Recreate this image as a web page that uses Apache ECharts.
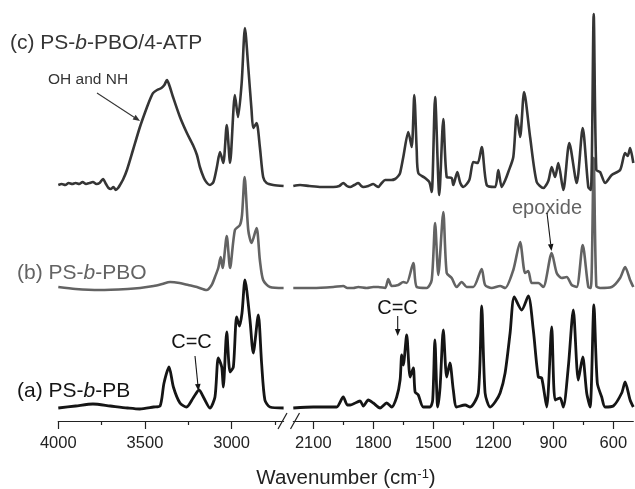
<!DOCTYPE html>
<html><head><meta charset="utf-8">
<script src="https://cdn.jsdelivr.net/npm/echarts@6/dist/echarts.min.js"></script>
<style>html,body{margin:0;padding:0;background:#fff}#c{width:635px;height:489px}</style>
</head><body><div id="c"></div>
<script>
// ---- tick values ----
const highLabels = [3000, 3500, 4000];
const highMinor = [2750, 3250, 3750];
const lowLabels = [600, 900, 1200, 1500, 1800, 2100];
const lowMinor = [750, 1050, 1350, 1650, 1950];
// ---- vertical stacking offsets of the three spectra ----
const offsets = {a: 13, b: 133, c: 235};
// ---- (c) PS-b-PBO/4-ATP [wavenumber, intensity] ----
const cHigh = [[4000,1],[3980,2],[3960,1],[3940,3],[3920,2],[3900,3],[3880,2],[3860,4],[3840,2],[3820,3],[3800,4],[3780,2],[3762,3],[3742,7],[3725,2],[3710,-2],[3696,-3],[3682,-1],[3668,-4],[3655,-2],[3644,1],[3625,7],[3604,16],[3569,36],[3529,59],[3488,79],[3465,89],[3453,93],[3430,96],[3405,98],[3388,101],[3373,106],[3358,100],[3338,89],[3298,69],[3258,53],[3223,41],[3200,31],[3183,19],[3160,8],[3142,3],[3125,1],[3105,4],[3085,19],[3067,34],[3048,23],[3028,61],[3009,23],[2981,91],[2963,69],[2942,103],[2923,158],[2904,119],[2885,76],[2875,58],[2856,63],[2837,39],[2818,9],[2798,3],[2760,1],[2700,0]];
const cLow = [[2200,0],[2166,1],[2120,0],[2060,-1],[2000,-1],[1970,0],[1950,3],[1932,0],[1916,-1],[1895,1],[1875,3],[1860,0],[1850,-1],[1825,0],[1800,2],[1785,0],[1775,-1],[1758,3],[1741,6],[1710,6],[1691,7],[1675,10],[1666,13],[1650,29],[1625,54],[1608,39],[1595,91],[1583,36],[1575,13],[1541,8],[1520,4],[1508,-6],[1491,89],[1470,-9],[1450,67],[1433,9],[1408,8],[1400,1],[1380,14],[1365,3],[1350,-1],[1320,6],[1300,24],[1278,23],[1258,39],[1233,1],[1191,-1],[1175,16],[1158,-1],[1140,6],[1125,14],[1100,29],[1083,71],[1066,49],[1046,94],[1016,49],[983,4],[950,-2],[925,5],[908,19],[891,9],[875,23],[850,-4],[820,43],[783,3],[753,58],[725,-1],[712,-4],[698,172],[685,16],[666,14],[641,3],[608,11],[566,16],[541,33],[528,30],[516,38],[500,23]];
// ---- (b) PS-b-PBO ----
const bHigh = [[4000,1],[3900,-1],[3760,-2],[3600,-1],[3528,0],[3450,2],[3400,4],[3355,6],[3300,5],[3250,3],[3200,1],[3144,-2],[3115,3],[3096,11],[3077,20],[3063,31],[3052,20],[3028,52],[3009,20],[2981,58],[2952,63],[2940,73],[2925,111],[2904,58],[2885,45],[2856,60],[2837,28],[2818,8],[2779,1],[2700,0]];
const bLow = [[2200,0],[2100,0],[2000,1],[1950,2],[1930,0],[1900,0],[1875,1],[1833,0],[1800,1],[1775,1],[1741,0],[1725,9],[1708,2],[1675,3],[1650,6],[1633,5],[1600,25],[1583,1],[1533,0],[1508,8],[1491,65],[1475,13],[1450,76],[1433,15],[1408,10],[1383,1],[1358,6],[1333,1],[1300,1],[1258,19],[1241,3],[1208,0],[1166,2],[1141,0],[1100,18],[1066,46],[1041,15],[1025,17],[1008,5],[975,5],[950,1],[908,35],[883,15],[858,10],[833,11],[808,3],[783,1],[753,43],[725,1],[712,0],[698,130],[685,2],[666,0],[608,1],[566,10],[541,21],[516,8],[500,1]];
// ---- (a) PS-b-PB ----
const aHigh = [[4000,0],[3900,2],[3800,4],[3700,2],[3600,0],[3530,-1],[3450,1],[3413,2],[3390,25],[3361,41],[3336,21],[3298,5],[3260,1],[3222,10],[3188,18],[3160,10],[3125,0],[3096,11],[3077,50],[3057,41],[3048,21],[3028,76],[3009,36],[2990,41],[2971,91],[2955,82],[2940,95],[2923,128],[2894,88],[2875,55],[2846,93],[2827,45],[2808,8],[2779,1],[2700,0]];
const aLow = [[2200,0],[2100,1],[2000,1],[1983,1],[1950,11],[1930,3],[1916,3],[1866,7],[1850,2],[1825,8],[1800,5],[1766,0],[1733,5],[1708,1],[1683,11],[1666,28],[1658,53],[1650,43],[1633,73],[1616,31],[1600,40],[1591,16],[1575,13],[1550,1],[1516,1],[1503,8],[1492,68],[1478,1],[1466,21],[1450,78],[1433,31],[1417,45],[1400,18],[1383,1],[1341,3],[1316,1],[1275,15],[1258,102],[1241,15],[1216,1],[1191,6],[1166,15],[1141,35],[1116,75],[1095,111],[1058,98],[1025,112],[1000,78],[975,31],[958,30],[933,1],[908,81],[891,8],[866,10],[850,1],[825,41],[800,98],[775,28],[753,51],[733,15],[716,1],[697,103],[680,25],[658,11],[641,1],[600,2],[558,15],[541,26],[516,8],[500,1]];

const FONT = '"Liberation Sans", Arial, Helvetica, sans-serif';
const AX = '#222';
const chart = echarts.init(document.getElementById('c'));

function majorAxis(grid, min, max, labels) {
  return {type:'value', gridIndex:grid, position:'bottom', min, max, inverse:true,
    axisLine:{show:true, onZero:false, lineStyle:{color:AX, width:1.2}},
    axisTick:{show:true, customValues:labels, length:8, lineStyle:{color:AX, width:1.2}},
    axisLabel:{show:true, customValues:labels, margin:14, color:AX, fontSize:16.5, fontFamily:FONT,
      formatter: v => String(v)},
    splitLine:{show:false}};
}
function minorAxis(grid, min, max, ticks) {
  return {type:'value', gridIndex:grid, position:'bottom', offset:0, min, max, inverse:true,
    axisLine:{show:false, onZero:false},
    axisTick:{show:true, customValues:ticks, length:4, lineStyle:{color:AX, width:1.2}},
    axisLabel:{show:false}, splitLine:{show:false}};
}
function spec(data, off, xi, color, width) {
  return {type:'line', xAxisIndex:xi, yAxisIndex: xi < 2 ? 0 : 1,
    data:data.map(p => [p[0], p[1] + off]), showSymbol:false, smooth:0.25,
    lineStyle:{color, width}, silent:true, animation:false};
}
function arrow(x1, y1, x2, y2, color) {
  const dx = x2 - x1, dy = y2 - y1, L = Math.hypot(dx, dy), ux = dx / L, uy = dy / L;
  const hl = 7, hw = 2.8, bx = x2 - ux * hl, by = y2 - uy * hl;
  return [
    {type:'line', shape:{x1, y1, x2:bx, y2:by}, style:{stroke:color, lineWidth:1.1}},
    {type:'polygon', shape:{points:[[x2, y2],[bx - uy * hw, by + ux * hw],[bx + uy * hw, by - ux * hw]]}, style:{fill:color}}
  ];
}
function txt(x, y, text, size, color, align) {
  return {type:'text', x, y, style:{text, fontSize:size, fontFamily:FONT, fill:color,
    align:align || 'left', verticalAlign:'middle',
    rich:{i:{fontStyle:'italic', fontSize:size, fontFamily:FONT, fill:color}}}};
}

const C_A = '#151515', C_B = '#636363', C_C = '#353535';
chart.setOption({
  animation:false,
  grid:[
    {left:58.3, top:11, width:225.3, height:410, outerBoundsMode:'none', containLabel:false},
    {left:293.3, top:11, width:340, height:410, outerBoundsMode:'none', containLabel:false}
  ],
  xAxis:[
    majorAxis(0, 2700, 4000, highLabels), minorAxis(0, 2700, 4000, highMinor),
    majorAxis(1, 500, 2200, lowLabels), minorAxis(1, 500, 2200, lowMinor)
  ],
  yAxis:[
    {type:'value', gridIndex:0, min:0, max:410, show:false},
    {type:'value', gridIndex:1, min:0, max:410, show:false}
  ],
  series:[
    spec(aHigh, offsets.a, 0, C_A, 2.8), spec(aLow, offsets.a, 2, C_A, 2.8),
    spec(bHigh, offsets.b, 0, C_B, 2.6), spec(bLow, offsets.b, 2, C_B, 2.6),
    spec(cHigh, offsets.c, 0, C_C, 2.6), spec(cLow, offsets.c, 2, C_C, 2.6)
  ],
  graphic:[
    {type:'line', shape:{x1:278, y1:429, x2:287, y2:413}, style:{stroke:AX, lineWidth:1.2}},
    {type:'line', shape:{x1:290.5, y1:429, x2:299.5, y2:413}, style:{stroke:AX, lineWidth:1.2}},
    txt(10, 43, '(c) PS-{i|b}-PBO/4-ATP', 21, C_C),
    txt(48, 80, 'OH and NH', 15.5, C_C),
    ...arrow(97, 93, 140, 121, C_C),
    txt(17, 273, '(b) PS-{i|b}-PBO', 21, C_B),
    txt(17, 391, '(a) PS-{i|b}-PB', 21, C_A),
    txt(191.5, 342.5, 'C=C', 20, C_A, 'center'),
    ...arrow(195, 356, 198.5, 391, C_A),
    txt(397.5, 308, 'C=C', 20, C_A, 'center'),
    ...arrow(397.7, 316, 397.7, 336, C_A),
    txt(547, 208, 'epoxide', 20, C_B, 'center'),
    ...arrow(547, 213, 551.5, 251, C_A),
    {type:'text', x:346, y:478.5, style:{text:'Wavenumber (cm{s|-1})', fontSize:20.5, fontFamily:FONT, fill:AX,
      align:'center', verticalAlign:'middle',
      rich:{s:{fontSize:13, fontFamily:FONT, fill:AX, verticalAlign:'top', lineHeight:20}}}}
  ]
});
</script></body></html>
